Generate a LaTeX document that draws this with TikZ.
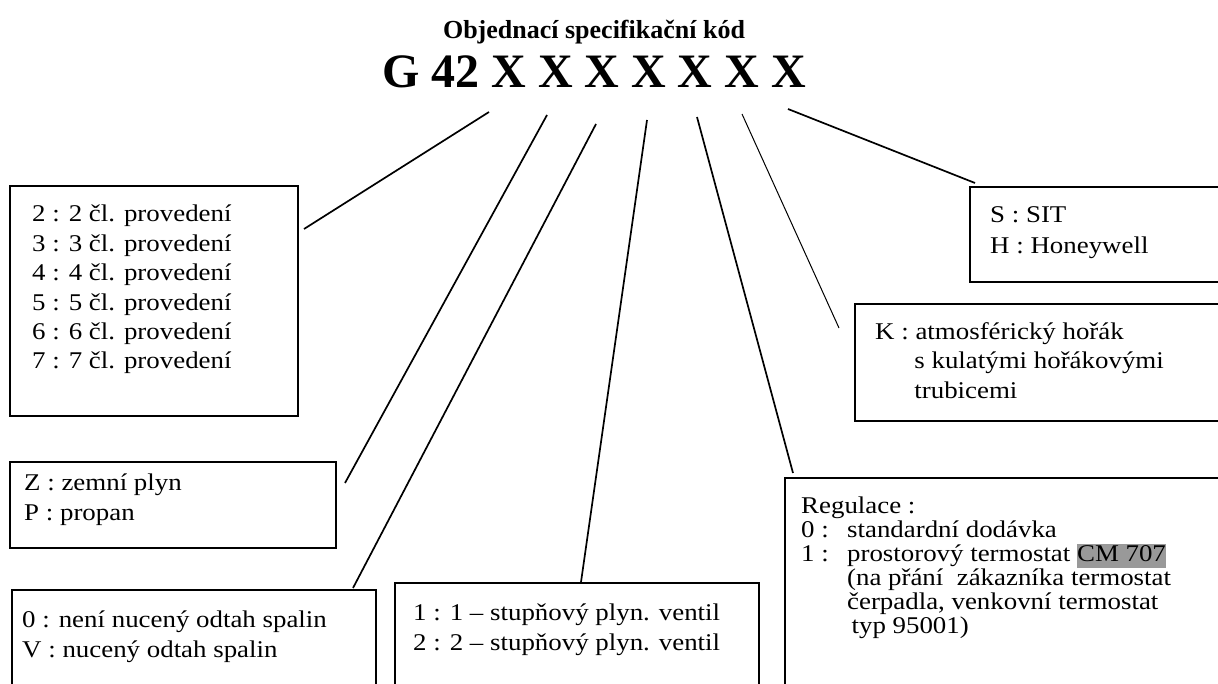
\documentclass[tikz,border=0pt]{standalone}
\usepackage{fontspec}
\setmainfont{Liberation Serif}
\usepackage{tikz}
\definecolor{hlgray}{gray}{0.6}

\begin{document}
\begin{tikzpicture}[x=1pt,y=-1pt]
\useasboundingbox (0,0) rectangle (1218,684);
\clip (0,0) rectangle (1218,684);

\node[font=\fontsize{26}{26}\selectfont\bfseries, anchor=base] (title) at (594,39) {Objednací specifikační kód};
\node[font=\fontsize{48}{48}\selectfont\bfseries, anchor=base] (code) at (594,88) {G 42 X X X X X X X};

\begin{scope}[every node/.style={draw,line width=1.3pt,rectangle,anchor=north west,inner sep=0pt,outer sep=0pt}]
    \node[minimum width=288, minimum height=230] (clanky) at (10,186) {};
    \node[minimum width=326, minimum height=86] (plyn) at (10,462) {};
    \node[minimum width=364, minimum height=120] (odtah) at (12,590) {};
    \node[minimum width=364, minimum height=120] (ventil) at (395,583) {};
    \node[minimum width=450, minimum height=230] (regulace) at (785,478) {};
    \node[minimum width=380, minimum height=117] (horak) at (855,304) {};
    \node[minimum width=260, minimum height=95] (armatura) at (970,187) {};
\end{scope}

\begin{scope}[every node/.style={font=\fontsize{24}{24}\selectfont,anchor=base west,inner sep=0pt,xscale=1.12}]
    \foreach \t [count=\i] in {2 : 2 čl. provedení, 3 : 3 čl. provedení, 4 : 4 čl. provedení,
                               5 : 5 čl. provedení, 6 : 6 čl. provedení, 7 : 7 čl. provedení}
        \node (clanky\i) at (32,{222+29.4*(\i-1)}) {\t};
    \node (plyn1) at (24,490) {Z : zemní plyn};
    \node (plyn2) at (24,520) {P : propan};
    \node (odtah1) at (22,627) {0 : není nucený odtah spalin};
    \node (odtah2) at (22,657) {V : nucený odtah spalin};
    \node (ventil1) at (413,620) {1 : 1 -- stupňový plyn. ventil};
    \node (ventil2) at (413,650) {2 : 2 -- stupňový plyn. ventil};
    \node (regulace1) at (801,513) {Regulace :};
    \node (regulace2) at (801,537) {\makebox[41pt][l]{0 :}standardní dodávka};
    \node (regulace3) at (801,561) {\makebox[41pt][l]{1 :}prostorový termostat {\fboxsep=0pt\colorbox{hlgray}{\strut CM 707}}};
    \node (regulace4) at (801,585) {\hspace*{41pt}(na přání\ \ zákazníka termostat};
    \node (regulace5) at (801,609) {\hspace*{41pt}čerpadla, venkovní termostat};
    \node (regulace6) at (801,633) {\hspace*{45pt}typ 95001)};
    \node (horak1) at (875,340) {K : atmosférický hořák};
    \node (horak2) at (875,369) {\hspace*{35pt}s kulatými hořákovými};
    \node (horak3) at (875,399) {\hspace*{35pt}trubicemi};
    \node (armatura1) at (990,223) {S : SIT};
    \node (armatura2) at (990,254) {H : Honeywell};
\end{scope}

\coordinate (c1) at (489,112);
\coordinate (c2) at (547,115);
\coordinate (c3) at (596,124);
\coordinate (c4) at (647,120);
\coordinate (c5) at (697,117);
\coordinate (c6) at (742,114);
\coordinate (c7) at (788,109);

\begin{scope}[every edge/.style={draw=black,line width=1.7pt}]
    \path [-] (c1) edge ([shift={(6,43)}]clanky.north east);
    \path [-] (c2) edge ([shift={(9,21)}]plyn.north east);
    \path [-] (c3) edge ([shift={(-23,-2)}]odtah.north east);
    \path [-] (c4) edge ([shift={(186,-1)}]ventil.north west);
    \path [-] (c5) edge ([shift={(8,-5)}]regulace.north west);
    \path [-] (c6) edge[line width=1pt] ([shift={(-16,24)}]horak.north west);
    \path [-] (c7) edge ([shift={(5,-4)}]armatura.north west);
\end{scope}
\end{tikzpicture}
\end{document}
